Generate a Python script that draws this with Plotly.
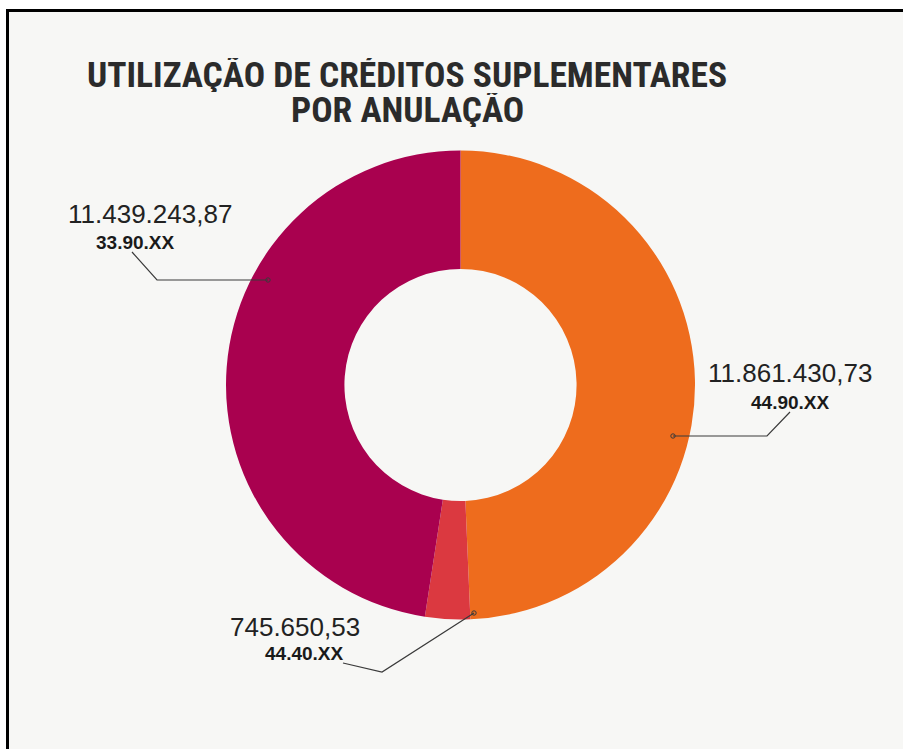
import plotly.graph_objects as go

W, H = 903, 749

# ---- data ----
codes = ["44.90.XX", "44.40.XX", "33.90.XX"]
values = [11861430.73, 745650.53, 11439243.87]
value_labels = ["11.861.430,73", "745.650,53", "11.439.243,87"]
colors = ["#EE6C1D", "#DB3940", "#A9014F"]
title_lines = ["UTILIZAÇÃO DE CRÉDITOS SUPLEMENTARES", "POR ANULAÇÃO"]

# ---- layout helpers (pixel -> paper) ----
def px(x):
    return x / W

def py(y):
    return 1 - y / H

cx, cy, r = 460.5, 385, 234.5

fig = go.Figure(go.Pie(
    labels=codes,
    values=values,
    marker=dict(colors=colors, line=dict(width=0)),
    hole=0.495,
    sort=False,
    direction="clockwise",
    rotation=0,
    textinfo="none",
    hoverinfo="label+value",
    showlegend=False,
    domain=dict(x=[px(cx - r), px(cx + r)], y=[py(cy + r), py(cy - r)]),
))

# label placement (layout): value text centre, code text centre, leader polyline
label_layout = [
    dict(val=(790, 373), code=(790, 402), leader=[(790, 412), (767, 436), (673, 436)]),
    dict(val=(295, 627), code=(304, 653), leader=[(343, 663), (382, 672), (474, 613)]),
    dict(val=(150, 214), code=(135, 242), leader=[(132, 252), (157, 280), (268, 280)]),
]

shapes = [
    # paper background
    dict(type="rect", xref="paper", yref="paper",
         x0=px(7.5), x1=1, y0=0, y1=py(10.5),
         fillcolor="#F7F7F5", line=dict(width=0, color="rgba(0,0,0,0)"), layer="below"),
    # black frame: left and top edges
    dict(type="line", xref="paper", yref="paper",
         x0=px(7.5), x1=px(7.5), y0=0, y1=py(9), line=dict(color="#000000", width=3)),
    dict(type="line", xref="paper", yref="paper",
         x0=px(6), x1=1, y0=py(10.5), y1=py(10.5), line=dict(color="#000000", width=3)),
]
annotations = []
for i, lay in enumerate(label_layout):
    annotations.append(dict(
        x=px(lay["val"][0]), y=py(lay["val"][1]), xref="paper", yref="paper",
        text=value_labels[i], showarrow=False, xanchor="center", yanchor="middle",
        font=dict(family="Liberation Sans, Arial, sans-serif", size=26, color="#222222"),
    ))
    annotations.append(dict(
        x=px(lay["code"][0]), y=py(lay["code"][1]), xref="paper", yref="paper",
        text="<b>" + codes[i] + "</b>", showarrow=False, xanchor="center", yanchor="middle",
        font=dict(family="Liberation Sans, Arial, sans-serif", size=19, color="#1A1A1A"),
    ))
    pts = lay["leader"]
    path = "M " + " L ".join(f"{px(x)},{py(y)}" for x, y in pts)
    shapes.append(dict(type="path", xref="paper", yref="paper", path=path,
                       line=dict(color="#3A3A3A", width=1.2)))
    ex, ey = pts[-1]
    shapes.append(dict(type="circle", xref="paper", yref="paper",
                       x0=px(ex - 2.2), x1=px(ex + 2.2), y0=py(ey + 2.2), y1=py(ey - 2.2),
                       line=dict(color="#3A3A3A", width=1), fillcolor="rgba(0,0,0,0)"))

title_font = dict(family="Roboto Condensed, Liberation Sans Narrow, Arial Narrow, sans-serif",
                  size=35.5, color="#2B2B2B")
annotations.append(dict(
    x=px(407), y=py(75), xref="paper", yref="paper", text="<b>" + title_lines[0] + "</b>",
    showarrow=False, xanchor="center", yanchor="middle", font=title_font,
    height=34, valign="middle",
))
annotations.append(dict(
    x=px(407), y=py(110), xref="paper", yref="paper", text="<b>" + title_lines[1] + "</b>",
    showarrow=False, xanchor="center", yanchor="middle", font=title_font,
    height=34, valign="middle",
))

fig.update_layout(
    width=W, height=H,
    margin=dict(l=0, r=0, t=0, b=0),
    paper_bgcolor="#FFFFFF",
    plot_bgcolor="#FFFFFF",
    shapes=shapes,
    annotations=annotations,
)

fig.write_html(
    "out.html",
    config={"displayModeBar": False},
    post_script=(
        "document.body.style.margin='0';"
        "document.body.style.overflow='hidden';"
        "document.documentElement.style.overflow='hidden';"
        "document.body.style.background='#F7F7F5';"
        "document.documentElement.style.background='#F7F7F5';"
    ),
)
